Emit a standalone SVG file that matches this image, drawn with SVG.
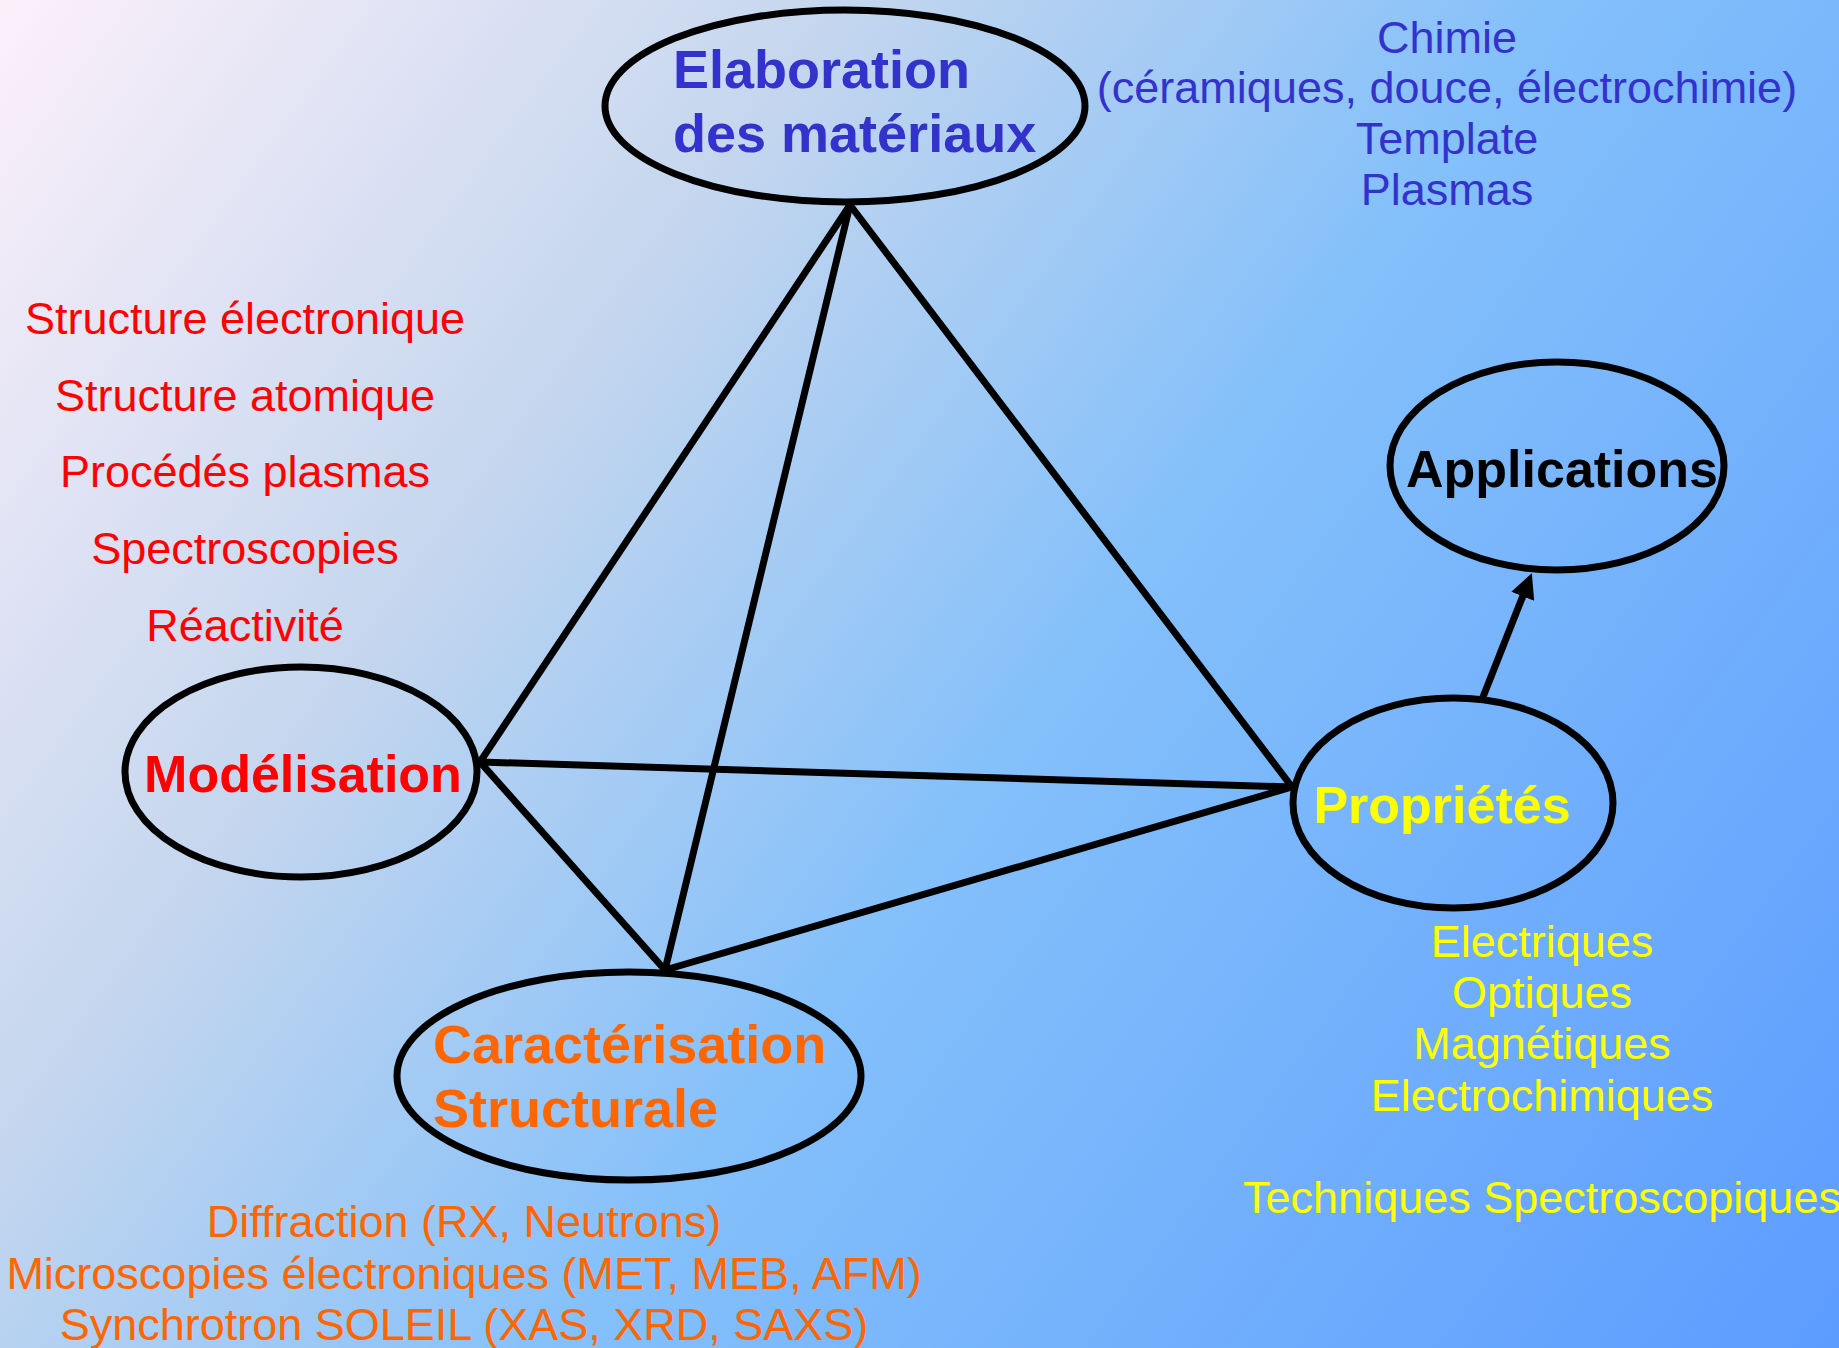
<svg xmlns="http://www.w3.org/2000/svg" width="1839" height="1348" viewBox="0 0 1839 1348">
<style>
.node{fill:none;stroke:#000;stroke-width:7}
.conn{stroke:#000;stroke-width:7;stroke-linecap:round;fill:none}
.lbl{font-family:"Liberation Sans",Arial,sans-serif;font-weight:bold;font-size:52px}
.big{font-size:54px}
.small{font-family:"Liberation Sans",Arial,sans-serif;font-size:45px;text-anchor:middle}
.blue{fill:#3333cc}
.red{fill:#ff0000}
.orange{fill:#ff6600}
.yellow{fill:#ffff00}
.black{fill:#000}
</style>
<defs>
<linearGradient id="bg" gradientUnits="userSpaceOnUse" x1="0" y1="0" x2="1839" y2="1348">
<stop offset="0" stop-color="#fcf0fa"/>
<stop offset="0.3" stop-color="#c4d6ee"/>
<stop offset="0.55" stop-color="#84c0fa"/>
<stop offset="1" stop-color="#5c9cff"/>
</linearGradient>
<marker id="arrow" viewBox="0 0 10 10" markerWidth="3.6" markerHeight="3.5" refX="2" refY="5" orient="auto" markerUnits="strokeWidth">
<path d="M0,0 L10,5 L0,10 z" fill="#000"/>
</marker>
</defs>
<rect x="0" y="0" width="1839" height="1348" fill="url(#bg)"/>

<g id="connectors">
<line class="conn" x1="850" y1="205" x2="480" y2="762"/>
<line class="conn" x1="850" y1="205" x2="665" y2="970"/>
<line class="conn" x1="850" y1="205" x2="1292" y2="787"/>
<line class="conn" x1="480" y1="762" x2="1292" y2="787"/>
<line class="conn" x1="480" y1="762" x2="665" y2="970"/>
<line class="conn" x1="665" y1="970" x2="1292" y2="787"/>
<line class="conn" style="stroke-linecap:butt" x1="1483" y1="697" x2="1524.6" y2="591.6" marker-end="url(#arrow)"/>
</g>

<g id="elaboration">
<ellipse class="node" cx="845" cy="106" rx="240" ry="96"/>
<text class="lbl big blue" x="673" y="88">Elaboration</text>
<text class="lbl big blue" x="673" y="152">des matériaux</text>
</g>

<g id="modelisation">
<ellipse class="node" cx="301" cy="772" rx="176" ry="105"/>
<text class="lbl red" x="303" y="792" text-anchor="middle">Modélisation</text>
</g>

<g id="proprietes">
<ellipse class="node" cx="1453" cy="803" rx="160" ry="105"/>
<text class="lbl yellow" x="1442" y="823" text-anchor="middle">Propriétés</text>
</g>

<g id="applications">
<ellipse class="node" cx="1557" cy="466" rx="167" ry="104"/>
<text class="lbl black" x="1562" y="487" text-anchor="middle">Applications</text>
</g>

<g id="caracterisation">
<ellipse class="node" cx="629" cy="1076" rx="232" ry="104"/>
<text class="lbl big orange" x="433" y="1063">Caractérisation</text>
<text class="lbl big orange" x="433" y="1127">Structurale</text>
</g>

<g id="chimie-notes">
<text class="small blue" x="1447" y="53">Chimie</text>
<text class="small blue" x="1447" y="103">(céramiques, douce, électrochimie)</text>
<text class="small blue" x="1447" y="154">Template</text>
<text class="small blue" x="1447" y="205">Plasmas</text>
</g>

<g id="modelisation-notes">
<text class="small red" x="245" y="334">Structure électronique</text>
<text class="small red" x="245" y="411">Structure atomique</text>
<text class="small red" x="245" y="487">Procédés plasmas</text>
<text class="small red" x="245" y="564">Spectroscopies</text>
<text class="small red" x="245" y="641">Réactivité</text>
</g>

<g id="caracterisation-notes">
<text class="small orange" x="464" y="1237">Diffraction (RX, Neutrons)</text>
<text class="small orange" x="464" y="1289">Microscopies électroniques (MET, MEB, AFM)</text>
<text class="small orange" x="464" y="1340">Synchrotron SOLEIL (XAS, XRD, SAXS)</text>
</g>

<g id="proprietes-notes">
<text class="small yellow" x="1542" y="957">Electriques</text>
<text class="small yellow" x="1542" y="1008">Optiques</text>
<text class="small yellow" x="1542" y="1059">Magnétiques</text>
<text class="small yellow" x="1542" y="1111">Electrochimiques</text>
<text class="small yellow" x="1542" y="1213">Techniques Spectroscopiques</text>
</g>
</svg>
